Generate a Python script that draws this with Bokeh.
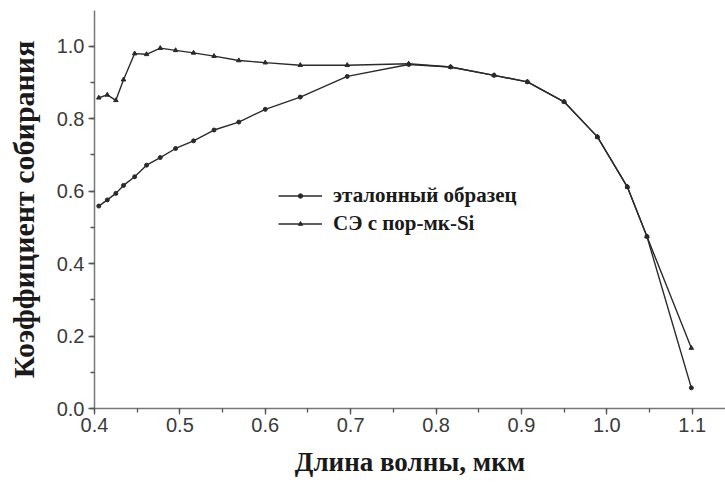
from bokeh.plotting import figure
from bokeh.models import (Range1d, SingleIntervalTicker, NumeralTickFormatter,
                          Legend, LegendItem, ColumnDataSource)
from bokeh.embed import file_html
from bokeh.resources import INLINE

# wavelength, um
wl = [0.405, 0.415, 0.425, 0.434, 0.447, 0.461, 0.477, 0.495, 0.516, 0.540,
      0.569, 0.600, 0.641, 0.696, 0.768, 0.817, 0.868, 0.907, 0.950, 0.989,
      1.024, 1.047, 1.099]
# reference sample (эталонный образец)
ref = [0.559, 0.576, 0.594, 0.616, 0.640, 0.672, 0.693, 0.718, 0.739, 0.769,
       0.791, 0.826, 0.860, 0.917, 0.950, 0.943, 0.920, 0.902, 0.847, 0.750,
       0.612, 0.475, 0.057]
# solar cell with porous-microcrystalline Si (СЭ с пор-мк-Si)
por = [0.858, 0.866, 0.851, 0.908, 0.980, 0.978, 0.995, 0.989, 0.982, 0.973,
       0.961, 0.955, 0.948, 0.948, 0.952, 0.943, 0.920, 0.902, 0.847, 0.750,
       0.612, 0.475, 0.167]

label_ref = "эталонный образец"
label_por = "СЭ с пор-мк-Si"
x_title = "Длина волны, мкм"
y_title = "Коэффициент собирания"

p = figure(width=725, height=479, output_backend="svg", toolbar_location=None,
           x_range=Range1d(0.4, 1.139), y_range=Range1d(0.0, 1.099),
           min_border_left=94, min_border_right=0, min_border_top=10,
           min_border_bottom=65)
p.outline_line_color = None
p.grid.visible = False
p.background_fill_color = "white"

src = ColumnDataSource(dict(x=wl, ref=ref, por=por))
line_col = "#2a2a2a"
l1 = p.line("x", "ref", source=src, line_color=line_col, line_width=1.4)
m1 = p.scatter("x", "ref", source=src, marker="circle", size=4,
               fill_color=line_col, line_color=line_col)
l2 = p.line("x", "por", source=src, line_color=line_col, line_width=1.4)
m2 = p.scatter("x", "por", source=src, marker="triangle", size=4.5,
               fill_color=line_col, line_color=line_col)

legend = Legend(items=[LegendItem(label=label_ref, renderers=[l1, m1]),
                       LegendItem(label=label_por, renderers=[l2, m2])],
                location=(184, 172), border_line_color=None,
                background_fill_alpha=0, padding=0, margin=0,
                glyph_width=44, glyph_height=11, label_height=24,
                spacing=3, label_standoff=11,
                label_text_font="Liberation Serif", label_text_font_style="bold",
                label_text_font_size="21px", label_text_color="#1a1a1a")
p.add_layout(legend)

for ax in (p.xaxis[0], p.yaxis[0]):
    ax.axis_line_color = "#777777"
    ax.axis_line_width = 1.5
    ax.major_tick_line_color = "#555555"
    ax.minor_tick_line_color = "#555555"
    ax.major_tick_line_width = 1.3
    ax.minor_tick_line_width = 1.3
    ax.major_tick_out = 6
    ax.major_tick_in = 0
    ax.minor_tick_out = 4
    ax.minor_tick_in = 0
    ax.major_label_text_font = "Liberation Sans"
    ax.major_label_text_font_size = "20px"
    ax.major_label_text_color = "#3a3a3a"
    ax.axis_label_text_font = "Liberation Serif"
    ax.axis_label_text_font_style = "bold"
    ax.axis_label_text_color = "#1a1a1a"
    ax.formatter = NumeralTickFormatter(format="0.0")

p.xaxis[0].ticker = SingleIntervalTicker(interval=0.1, num_minor_ticks=2)
p.yaxis[0].ticker = SingleIntervalTicker(interval=0.2, num_minor_ticks=2)
p.xaxis[0].axis_label = x_title
p.yaxis[0].axis_label = y_title
p.xaxis[0].axis_label_text_font_size = "27px"
p.yaxis[0].axis_label_text_font_size = "30px"
p.xaxis[0].major_label_standoff = 3
p.yaxis[0].major_label_standoff = 4
p.xaxis[0].axis_label_standoff = 12
p.yaxis[0].axis_label_standoff = 14

open("out.html", "w").write(file_html(p, INLINE))
